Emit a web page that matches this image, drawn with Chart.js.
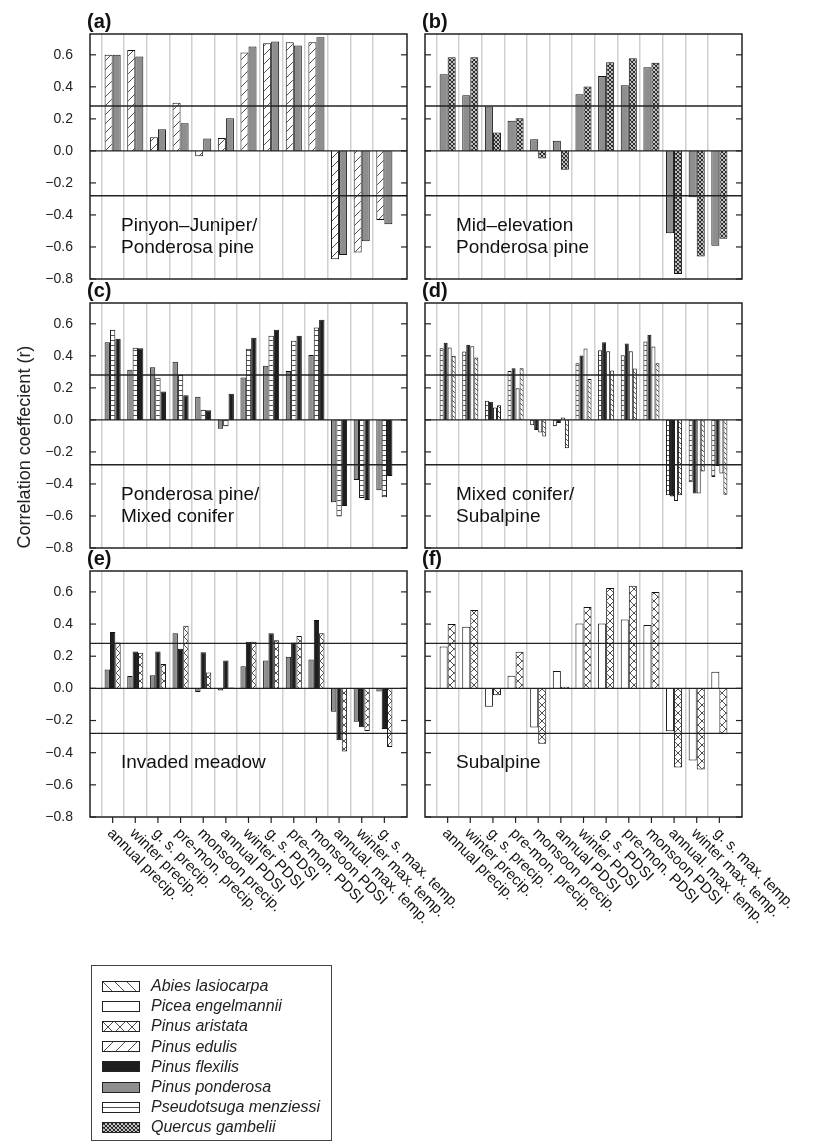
<!DOCTYPE html>
<html lang="en">
<head>
<meta charset="UTF-8">
<title>climate correlations</title>
<script src="https://cdn.jsdelivr.net/npm/chart.js@4.4.1/dist/chart.umd.min.js"></script>
<style>
    body{ margin:0; background:#fff; }
    #fig{ position:relative; width:818px; height:1145px; font-family:"Liberation Sans", Arial, sans-serif; color:#222; }
    #fig canvas{ position:absolute; }
    #ytitle{ position:absolute; left:-126px; top:437px; width:300px; text-align:center; font-size:18px; line-height:20px; transform:rotate(-90deg); }
    #legend{ position:absolute; left:91px; top:965px; width:239px; height:174px; border:1.5px solid #444; }
    #legend .row{ position:absolute; left:10px; height:20px; display:flex; align-items:center; }
    #legend canvas{ position:static; margin-right:11px; }
    #legend span{ font-style:italic; font-size:16px; }
</style>
</head>
<body>
<div id="fig">
    <canvas id="pa" width="410" height="285" style="left:0;top:4px"></canvas>
    <canvas id="pb" width="408" height="285" style="left:410px;top:4px"></canvas>
    <canvas id="pc" width="410" height="285" style="left:0;top:273px"></canvas>
    <canvas id="pd" width="408" height="285" style="left:410px;top:273px"></canvas>
    <canvas id="pe" width="470" height="396" style="left:0;top:541px"></canvas>
    <canvas id="pf" width="408" height="396" style="left:410px;top:541px"></canvas>
    <div id="ytitle">Correlation coeffecient (r)</div>
    <div id="legend"></div>
</div>
<script>
const categories = ['annual precip.', 'winter precip.', 'g. s. precip.', 'pre-mon. precip.', 'monsoon precip.',
    'annual PDSI', 'winter PDSI', 'g. s. PDSI', 'pre-mon. PDSI', 'monsoon PDSI',
    'annual. max. temp.', 'winter max. temp.', 'g. s. max. temp.'];
const sigLevel = 0.28; // significance lines

// (a) Pinyon-Juniper / Ponderosa pine
const edulisA    = [0.60, 0.63, 0.085, 0.30, -0.033, 0.08, 0.615, 0.673, 0.679, 0.679, -0.677, -0.635, -0.431];
const ponderosaA = [0.60, 0.59, 0.135, 0.173, 0.077, 0.204, 0.652, 0.683, 0.658, 0.71, -0.65, -0.565, -0.458];
// (b) Mid-elevation Ponderosa pine
const ponderosaB = [0.479, 0.348, 0.277, 0.188, 0.073, 0.063, 0.354, 0.467, 0.41, 0.523, -0.515, -0.29, -0.592];
const quercusB   = [0.585, 0.585, 0.115, 0.204, -0.048, -0.117, 0.402, 0.554, 0.579, 0.55, -0.769, -0.66, -0.548];
// (c) Ponderosa pine / Mixed conifer
const ponderosaC   = [0.485, 0.313, 0.329, 0.363, 0.144, -0.056, 0.265, 0.338, 0.306, 0.406, -0.515, -0.375, -0.44];
const pseudotsugaC = [0.563, 0.45, 0.263, 0.281, 0.063, -0.04, 0.444, 0.525, 0.494, 0.577, -0.604, -0.488, -0.483];
const flexilisC    = [0.506, 0.448, 0.177, 0.154, 0.06, 0.163, 0.513, 0.563, 0.525, 0.625, -0.538, -0.5, -0.35];
// (d) Mixed conifer / Subalpine
const pseudotsugaD = [0.448, 0.427, 0.119, 0.306, -0.033, -0.04, 0.354, 0.435, 0.404, 0.49, -0.471, -0.39, -0.356];
const flexilisD    = [0.481, 0.469, 0.113, 0.323, -0.063, -0.02, 0.402, 0.485, 0.477, 0.531, -0.479, -0.46, -0.288];
const piceaD       = [0.452, 0.46, 0.077, 0.198, -0.079, 0.015, 0.446, 0.429, 0.429, 0.458, -0.506, -0.46, -0.335];
const abiesD       = [0.40, 0.39, 0.092, 0.323, -0.104, -0.177, 0.256, 0.308, 0.321, 0.354, -0.471, -0.323, -0.467];
// (e) Invaded meadow
const ponderosaE = [0.117, 0.077, 0.081, 0.343, -0.023, -0.013, 0.138, 0.173, 0.196, 0.179, -0.146, -0.208, -0.019];
const flexilisE  = [0.35, 0.229, 0.229, 0.246, 0.225, 0.173, 0.29, 0.343, 0.285, 0.425, -0.323, -0.242, -0.252];
const aristataE  = [0.285, 0.221, 0.152, 0.39, 0.098, 0.005, 0.29, 0.30, 0.325, 0.343, -0.392, -0.265, -0.365];
// (f) Subalpine
const piceaF    = [0.26, 0.383, -0.115, 0.079, -0.244, 0.108, 0.404, 0.404, 0.429, 0.394, -0.267, -0.448, 0.104];
const aristataF = [0.40, 0.488, -0.042, 0.227, -0.344, 0.01, 0.506, 0.625, 0.638, 0.60, -0.492, -0.504, -0.285];

const speciesKeys  = ['abies', 'picea', 'aristata', 'edulis', 'flexilis', 'ponderosa', 'pseudotsuga', 'quercus'];
const speciesNames = ['Abies lasiocarpa', 'Picea engelmannii', 'Pinus aristata', 'Pinus edulis',
    'Pinus flexilis', 'Pinus ponderosa', 'Pseudotsuga menziessi', 'Quercus gambelii'];

const FONT = '"Liberation Sans", Arial, sans-serif';

// hatch patterns
function makePattern(kind, s, lw) {
    const c = document.createElement('canvas');
    c.width = s; c.height = s;
    const g = c.getContext('2d');
    g.fillStyle = '#fff';
    g.fillRect(0, 0, s, s);
    g.strokeStyle = '#222';
    g.lineWidth = lw || 0.8;
    g.beginPath();
    if (kind === 'fwd' || kind === 'cross') {
        g.moveTo(-1, s + 1); g.lineTo(s + 1, -1);
        g.moveTo(-1, 1); g.lineTo(1, -1);
        g.moveTo(s - 1, s + 1); g.lineTo(s + 1, s - 1);
    }
    if (kind === 'back' || kind === 'cross') {
        g.moveTo(-1, -1); g.lineTo(s + 1, s + 1);
        g.moveTo(s - 1, -1); g.lineTo(s + 1, 1);
        g.moveTo(-1, s - 1); g.lineTo(1, s + 1);
    }
    if (kind === 'horiz') {
        const hy = Math.floor(s / 2) + 0.5;
        g.moveTo(0, hy); g.lineTo(s, hy);
    }
    g.stroke();
    return g.createPattern(c, 'repeat');
}

const fills = {
    abies: makePattern('back', 5),
    picea: '#ffffff',
    aristata: makePattern('cross', 8),
    edulis: makePattern('fwd', 9),
    flexilis: '#1e1e1e',
    ponderosa: '#8e8e8e',
    pseudotsuga: makePattern('horiz', 5),
    quercus: makePattern('cross', 4, 1.1)
};
const legendFills = Object.assign({}, fills, {
    abies: makePattern('back', 12),
    aristata: makePattern('cross', 12),
    edulis: makePattern('fwd', 12),
    pseudotsuga: makePattern('horiz', 11)
});

function line(ctx, x1, y1, x2, y2) {
    ctx.beginPath(); ctx.moveTo(x1, y1); ctx.lineTo(x2, y2); ctx.stroke();
}

const deco = {
    id: 'deco',
    afterDatasetsDraw(chart) {
        const {ctx, chartArea: a, scales: {y}} = chart;
        ctx.save();
        ctx.strokeStyle = '#222';
        ctx.lineWidth = 1.4;
        [0, sigLevel, -sigLevel].forEach(v => {
            const py = y.getPixelForValue(v);
            line(ctx, a.left, py, a.right, py);
        });
        ctx.restore();
    },
    afterDraw(chart, args, o) {
        const {ctx, chartArea: a, scales: {x, y}} = chart;
        ctx.save();
        ctx.strokeStyle = '#222';
        ctx.lineWidth = 1.5;
        ctx.strokeRect(a.left, a.top, a.right - a.left, a.bottom - a.top);
        ctx.lineWidth = 1.2;
        y.ticks.forEach(t => {
            const py = y.getPixelForValue(t.value);
            line(ctx, a.left, py, a.left + 6, py);
            line(ctx, a.right - 6, py, a.right, py);
        });
        ctx.fillStyle = '#111';
        ctx.textAlign = 'left';
        ctx.textBaseline = 'alphabetic';
        ctx.font = 'bold 20px ' + FONT;
        ctx.fillText(o.tag, a.left - 3, a.top - 6);
        ctx.font = '19px ' + FONT;
        o.note.forEach((s, k) => ctx.fillText(s, a.left + 31, a.top + 197 + k * 22));
        if (o.xlabels) {
            ctx.font = '15px ' + FONT;
            categories.forEach((lab, i) => {
                const px = x.getPixelForValue(i + 1);
                line(ctx, px, a.bottom, px, a.bottom + 6);
                ctx.save();
                ctx.translate(px - 6, a.bottom + 17);
                ctx.rotate(Math.PI / 4);
                ctx.fillText(lab, 0, 0);
                ctx.restore();
            });
        }
        ctx.restore();
    }
};

function tickFmt(value) {
    const v = Math.round(value * 10) / 10;
    if (v === 0) return '0.0';
    return (v < 0 ? '\u2212' : '') + Math.abs(v).toFixed(1);
}

function noPad(s) {
    s.paddingTop = 0; s.paddingBottom = 0; s.paddingLeft = 0; s.paddingRight = 0;
}

function panel(id, tag, note, series, opt) {
    const nEdge = categories.length + 1;
    new Chart(document.getElementById(id), {
        type: 'bar',
        data: {
            labels: ['', ...categories, ''],
            datasets: series.map(([sp, vals]) => ({
                label: sp,
                data: [null, ...vals, null],
                backgroundColor: fills[sp],
                borderColor: '#111',
                borderWidth: 1,
                categoryPercentage: 0.71,
                barPercentage: 1
            }))
        },
        options: {
            responsive: false,
            animation: false,
            events: [],
            layout: { padding: { top: 30, right: opt.right, bottom: opt.bottom, left: 0 } },
            plugins: {
                legend: { display: false },
                tooltip: { enabled: false },
                deco: { tag: tag, note: note, xlabels: opt.xlabels }
            },
            scales: {
                x: {
                    offset: false,
                    ticks: { display: false, autoSkip: false },
                    grid: {
                        color: c => (c.index === 0 || c.index === nEdge) ? 'rgba(0,0,0,0)' : '#d0d0d0',
                        lineWidth: 1.5,
                        drawTicks: false
                    },
                    border: { display: false },
                    afterFit: s => { s.height = opt.xh; noPad(s); }
                },
                y: {
                    min: -0.8,
                    max: 0.73,
                    ticks: {
                        display: opt.ylabels,
                        stepSize: 0.2,
                        includeBounds: false,
                        padding: 9,
                        color: '#222',
                        font: { size: 14, family: FONT },
                        callback: tickFmt
                    },
                    grid: { display: false },
                    border: { display: false },
                    afterFit: s => { s.width = opt.yw; noPad(s); }
                }
            }
        },
        plugins: [deco]
    });
}

const leftTop  = { right: 3, bottom: 10, xh: 0, yw: 90, ylabels: true, xlabels: false };
const rightTop = { right: 76, bottom: 10, xh: 0, yw: 15, ylabels: false, xlabels: false };
const leftBot  = { right: 63, bottom: 0, xh: 120, yw: 90, ylabels: true, xlabels: true };
const rightBot = { right: 76, bottom: 0, xh: 120, yw: 15, ylabels: false, xlabels: true };

panel('pa', '(a)', ['Pinyon\u2013Juniper/', 'Ponderosa pine'], [['edulis', edulisA], ['ponderosa', ponderosaA]], leftTop);
panel('pb', '(b)', ['Mid\u2013elevation', 'Ponderosa pine'], [['ponderosa', ponderosaB], ['quercus', quercusB]], rightTop);
panel('pc', '(c)', ['Ponderosa pine/', 'Mixed conifer'],
    [['ponderosa', ponderosaC], ['pseudotsuga', pseudotsugaC], ['flexilis', flexilisC]], leftTop);
panel('pd', '(d)', ['Mixed conifer/', 'Subalpine'],
    [['pseudotsuga', pseudotsugaD], ['flexilis', flexilisD], ['picea', piceaD], ['abies', abiesD]], rightTop);
panel('pe', '(e)', ['Invaded meadow'],
    [['ponderosa', ponderosaE], ['flexilis', flexilisE], ['aristata', aristataE]], leftBot);
panel('pf', '(f)', ['Subalpine'], [['picea', piceaF], ['aristata', aristataF]], rightBot);

// legend
const legend = document.getElementById('legend');
speciesKeys.forEach((k, i) => {
    const row = document.createElement('div');
    row.className = 'row';
    row.style.top = (10 + i * 20.2) + 'px';
    const sw = document.createElement('canvas');
    sw.width = 38; sw.height = 11;
    const g = sw.getContext('2d');
    g.fillStyle = legendFills[k];
    g.fillRect(0, 0, 38, 11);
    g.strokeStyle = '#222';
    g.lineWidth = 1;
    g.strokeRect(0.5, 0.5, 37, 10);
    const txt = document.createElement('span');
    txt.textContent = speciesNames[i];
    row.appendChild(sw);
    row.appendChild(txt);
    legend.appendChild(row);
});
</script>
</body>
</html>
